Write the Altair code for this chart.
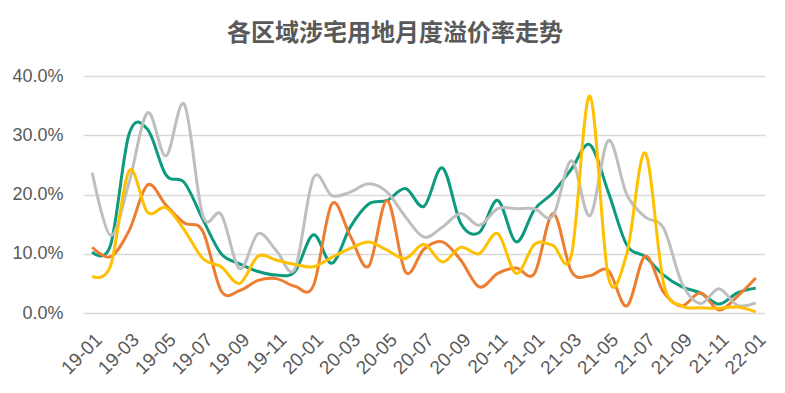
import altair as alt
import pandas as pd

months = ["19-01", "19-02", "19-03", "19-04", "19-05", "19-06", "19-07", "19-08", "19-09", "19-10", "19-11", "19-12",
          "20-01", "20-02", "20-03", "20-04", "20-05", "20-06", "20-07", "20-08", "20-09", "20-10", "20-11", "20-12",
          "21-01", "21-02", "21-03", "21-04", "21-05", "21-06", "21-07", "21-08", "21-09", "21-10", "21-11", "21-12",
          "22-01"]
tick_labels = ["19-01", "19-03", "19-05", "19-07", "19-09", "19-11", "20-01", "20-03", "20-05", "20-07", "20-09",
               "20-11", "21-01", "21-03", "21-05", "21-07", "21-09", "21-11", "22-01"]

teal = [10.3, 11.5, 30.2, 31.0, 23.3, 22.0, 15.8, 10.0, 8.3, 7.0, 6.4, 7.0, 13.2, 8.4, 14.5, 18.4, 19.0, 21.0, 18.0,
        24.5, 15.1, 13.6, 19.0, 12.0, 17.5, 20.3, 24.3, 28.4, 20.4, 11.5, 9.5, 6.4, 4.4, 3.4, 1.5, 3.4, 4.2]
orange = [11.1, 9.5, 13.9, 21.6, 18.2, 15.2, 13.8, 3.7, 3.8, 5.5, 5.8, 4.5, 4.6, 18.4, 13.0, 7.9, 19.0, 6.9, 10.8,
          12.0, 8.9, 4.4, 6.7, 7.6, 6.7, 16.8, 7.0, 6.3, 7.2, 1.2, 9.6, 3.5, 1.2, 3.4, 0.5, 2.8, 5.9]
gray = [23.7, 13.1, 22.0, 33.8, 26.5, 35.2, 16.4, 16.6, 7.5, 13.4, 10.5, 7.5, 22.8, 19.8, 20.4, 21.8, 20.4, 16.2, 12.8,
        14.5, 16.8, 14.8, 17.6, 17.6, 17.6, 16.4, 25.7, 16.4, 29.1, 20.0, 16.2, 14.3, 5.0, 1.6, 4.1, 1.3, 1.7]
yellow = [6.2, 8.0, 24.0, 17.0, 17.8, 14.0, 9.2, 7.8, 5.0, 9.6, 8.9, 8.2, 7.8, 9.4, 10.9, 12.0, 10.6, 9.2, 11.6,
          8.6, 11.1, 10.0, 13.4, 6.7, 11.6, 11.4, 9.8, 36.6, 6.1, 10.0, 27.0, 5.0, 1.2, 0.9, 0.8, 1.0, 0.2]

names = ["区域一", "区域二", "区域三", "区域四"]
colors = ["#0E9A7E", "#ED7D31", "#BFBFBF", "#FFC000"]
series_values = [teal, orange, gray, yellow]

rows = []
for name, vals in zip(names, series_values):
    for m, v in zip(months, vals):
        rows.append({"month": m, "series": name, "value": v / 100})
df = pd.DataFrame(rows)

label_font = "Liberation Sans, Arial, sans-serif"

x_enc = alt.X("month:O", sort=months,
              scale=alt.Scale(type="point", padding=0.5),
              axis=alt.Axis(values=tick_labels, labelAngle=-45, title=None, domain=False, ticks=False,
                            grid=False, labelFontSize=19, labelColor="#595959", labelFont=label_font,
                            labelPadding=17))
y_enc = alt.Y("value:Q", scale=alt.Scale(domain=[0, 0.4], nice=False),
              axis=alt.Axis(values=[0, 0.1, 0.2, 0.3, 0.4], format=".1%", title=None, domain=False,
                            ticks=False, gridColor="#D9D9D9", gridWidth=1.5, labelFontSize=18,
                            labelColor="#595959", labelFont=label_font, labelPadding=20))
c_enc = alt.Color("series:N", scale=alt.Scale(domain=names, range=colors), legend=None)

layers = []
for name in names:
    layers.append(
        alt.Chart(df).transform_filter(alt.datum.series == name)
        .mark_line(interpolate="cardinal", tension=0, strokeWidth=3)
        .encode(x=x_enc, y=y_enc, color=c_enc)
    )

chart = alt.layer(*layers).properties(
    width=682,
    height=237,
    title=alt.TitleParams("各区域涉宅用地月度溢价率走势", fontSize=24, font="Noto Sans CJK SC",
                          fontWeight="bold", color="#595959", anchor="middle", frame="group",
                          dx=-29, offset=21),
    autosize=alt.AutoSizeParams(type="none"),
    padding={"left": 75, "top": 68, "right": 12, "bottom": 80},
).configure_view(stroke=None)

chart.save("out.html", embed_options={"renderer": "svg", "actions": False})
